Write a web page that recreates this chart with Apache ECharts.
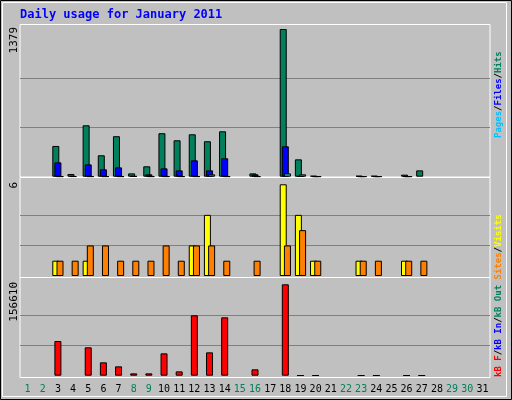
<!DOCTYPE html>
<html><head><meta charset="utf-8">
<script src="https://cdn.jsdelivr.net/npm/echarts@6/dist/echarts.min.js"></script>
<style>html,body{margin:0;padding:0;background:#c0c0c0}#c{width:512px;height:400px}</style>
</head><body><div id="c"></div>
<script>
var days = [];
for (var d = 1; d <= 31; d++) days.push(String(d));
var weekend = ['1', '2', '8', '9', '15', '16', '22', '23', '29', '30'];

var hits  = [0,0,287,25,480,200,378,31,97,406,340,396,331,424,0,31,0,1379,162,9,0,0,9,9,0,19,59,0,0,0,0];
var files = [0,0,134,3,115,69,87,6,22,78,59,153,59,172,0,22,0,284,4,2,0,0,2,2,0,2,0,0,0,0,0];
var pages = [0,0,2,0,2,2,2,0,2,2,2,2,22,2,0,2,0,31,22,2,0,0,2,2,0,2,0,0,0,0,0];
var visits = [0,0,1,0,1,0,0,0,0,0,0,2,4,0,0,0,0,6,4,1,0,0,1,0,0,1,0,0,0,0,0];
var sites  = [0,0,1,1,2,2,1,1,1,2,1,2,2,1,0,1,0,2,3,1,0,0,1,1,0,1,1,0,0,0,0];
var kbytes = [0,0,59400,0,48600,22900,16000,4000,4000,38300,7400,103500,40000,100000,0,10900,0,156610,600,600,0,0,600,600,0,600,600,0,0,0,0];

var maxHits = 1379, maxVisits = 6, maxKb = 156610;
var mono = 'DejaVu Sans Mono';

function nz(a) { return a.map(function (v) { return v === 0 ? null : v; }); }

var splitCols = ['rgba(0,0,0,0)', '#808080', '#808080', 'rgba(0,0,0,0)'];
function yAx(i, m) {
    return {
        gridIndex: i, type: 'value', min: 0, max: m, interval: m / 3,
        axisLabel: { show: false }, axisLine: { show: false }, axisTick: { show: false },
        splitLine: { lineStyle: { color: splitCols, width: 1 } }
    };
}
function xAx(i, show) {
    return {
        gridIndex: i, type: 'category', data: days,
        axisLine: { show: false }, axisTick: { show: false }, splitLine: { show: false },
        axisLabel: {
            show: show, interval: 0, margin: 9, fontFamily: mono, fontSize: 10,
            formatter: function (v) { return weekend.indexOf(v) >= 0 ? '{w|' + v + '}' : '{n|' + v + '}'; },
            rich: { w: { color: '#00805c', fontFamily: mono, fontSize: 10 }, n: { color: '#000', fontFamily: mono, fontSize: 10 } }
        }
    };
}
function bar(name, data, color, xi, gap) {
    return {
        name: name, type: 'bar', xAxisIndex: xi, yAxisIndex: xi, data: nz(data),
        barWidth: 7, barGap: gap, animation: false,
        itemStyle: { color: color, borderColor: '#000', borderWidth: 1 }
    };
}
function panel(y, h) {
    return { type: 'rect', z: -1, shape: { x: 20, y: y, width: 470, height: h },
        style: { fill: '#c0c0c0', stroke: '#fff', lineWidth: 1 } };
}
function vtext(x, y, text) {
    return { type: 'text', x: x, y: y, rotation: Math.PI / 2,
        style: { text: text, fontFamily: mono, fontSize: 11, fill: '#000',
            align: 'right', verticalAlign: 'middle' } };
}
function legend(x, y, text, rich) {
    return { type: 'text', x: x, y: y, rotation: Math.PI / 2,
        style: { text: text, rich: rich, fontFamily: mono, fontSize: 9, fontWeight: 'bold',
            align: 'left', verticalAlign: 'middle' } };
}
function r(c) { return { fill: c, fontFamily: mono, fontSize: 9, fontWeight: 'bold' }; }

var chart = echarts.init(document.getElementById('c'));
chart.setOption({
    backgroundColor: '#c0c0c0',
    animation: false,
    grid: [
        { left: 20, right: 22, top: 29, height: 147.7 },
        { left: 20, right: 22, top: 184.3, height: 91.7 },
        { left: 20, right: 22, top: 284.3, height: 91.4 }
    ],
    xAxis: [xAx(0, false), xAx(1, false), xAx(2, true)],
    yAxis: [yAx(0, maxHits), yAx(1, maxVisits), yAx(2, maxKb)],
    series: [
        bar('Hits', hits, '#00805c', 0, '-70%'),
        bar('Files', files, '#0000ff', 0, '-70%'),
        bar('Pages', pages, '#00c0ff', 0, '-70%'),
        bar('Visits', visits, '#ffff00', 1, '-40%'),
        bar('Sites', sites, '#ff8000', 1, '-40%'),
        bar('kB F', kbytes, '#ff0000', 2, '0%')
    ],
    graphic: [
        { type: 'rect', z: -2, shape: { x: 0.5, y: 0.5, width: 511, height: 399 },
          style: { fill: '#c0c0c0', stroke: '#000', lineWidth: 1 } },
        { type: 'rect', z: -2, shape: { x: 2.5, y: 2.5, width: 504, height: 394 },
          style: { fill: 'none', stroke: '#fff', lineWidth: 1 } },
        panel(24.5, 152.5), panel(177.5, 100), panel(277.5, 100),
        { type: 'text', x: 20, y: 9, style: { text: 'Daily usage for January 2011', fontFamily: mono,
            fontSize: 12, fontWeight: 'bold', fill: '#0000ff' } },
        vtext(14, 27, String(maxHits)),
        vtext(14, 182, String(maxVisits)),
        vtext(14, 282, String(maxKb)),
        legend(499, 138, '{p|Pages}{k|/}{f|Files}{k|/}{h|Hits}',
            { p: r('#00c0ff'), f: r('#0000ff'), h: r('#00805c'), k: r('#000') }),
        legend(499, 377, '{a|kB F}{k|/}{b|kB In}{k|/}{c|kB Out} {s|Sites}{k|/}{v|Visits}',
            { a: r('#ff0000'), b: r('#0000ff'), c: r('#00805c'), s: r('#ff8000'), v: r('#ffff00'), k: r('#000') })
    ]
});
</script></body></html>
